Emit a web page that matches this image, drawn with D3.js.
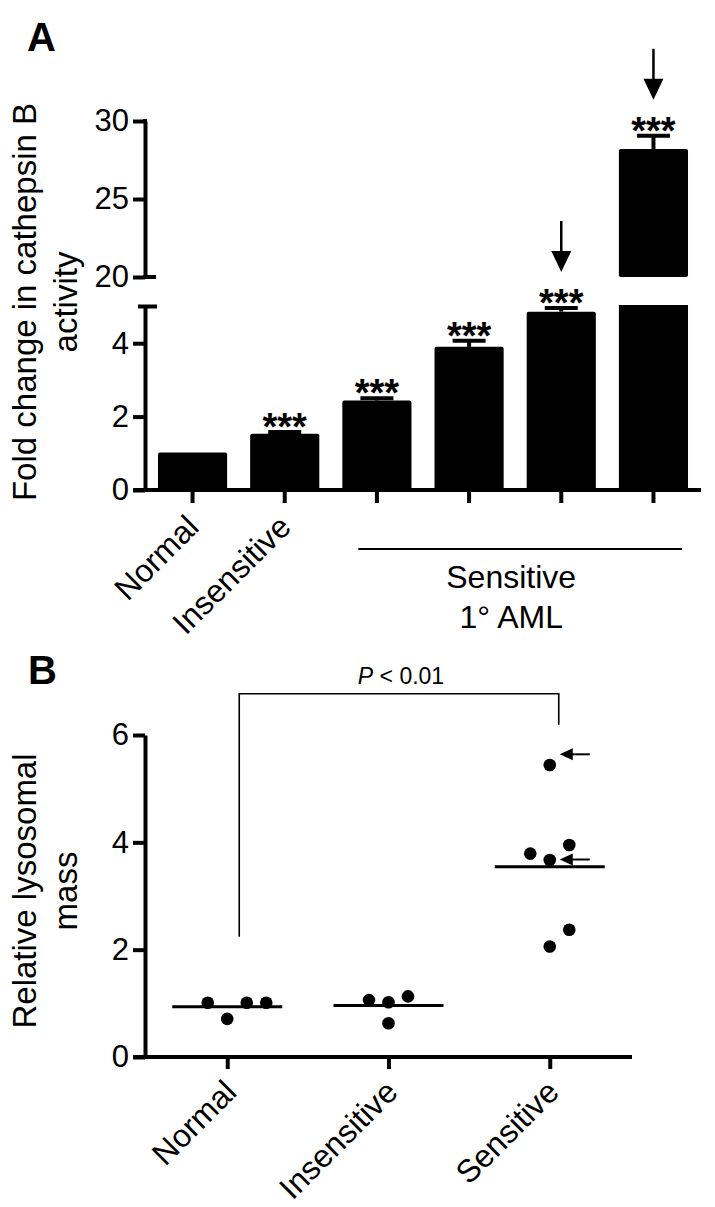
<!DOCTYPE html>
<html><head><meta charset="utf-8">
<script src="https://cdn.jsdelivr.net/npm/d3@7"></script>
<style>
body{margin:0;background:#fff}
svg{display:block}
text{font-family:"Liberation Sans",Arial,Helvetica,sans-serif;fill:#000}
</style>
</head><body><svg id="c" width="715" height="1207"></svg>
<script>
// ---------- Panel A data ----------
const categoriesA = ["Normal","Insensitive","AML1","AML2","AML3","AML4"];
const xLabelsA = ["Normal","Insensitive","","","",""];
const meansA = [1.02, 1.53, 2.44, 3.90, 4.86, 28.2];
const semA = [0, 0.05, 0.06, 0.17, 0.10, 0.85];
const starsA = ["","***","***","***","***","***"];
const arrowBarsA = ["AML3","AML4"];
const lowerTicksA = [0,2,4];
const upperTicksA = [20,25,30];
const lowerDomainA = [0,5];
const upperDomainA = [20,30];
const groupMembersA = ["AML1","AML4"];
const groupLabelA = ["Sensitive","1° AML"];
const yTitleA = ["Fold change in cathepsin B","activity"];

// ---------- Panel B data ----------
const categoriesB = ["Normal","Insensitive","Sensitive"];
const valuesNormal = [1.01, 0.71, 1.01, 1.01];
const valuesInsensitive = [1.06, 1.02, 1.13, 0.63];
const valuesSensitive = [5.44, 3.79, 3.67, 3.95, 2.06, 2.37];
const slotsNormal = [-1, 0, 1, 2];
const slotsInsensitive = [-1, 0, 1, 0];
const slotsSensitive = [0, -1, 0, 1, 0, 1];
const ticksB = [0,2,4,6];
const domainB = [0,6];
const arrowTargetsB = [5.64, 3.68];
const bracketB = {from:"Normal", to:"Sensitive", top:6.77, leftEnd:2.24, rightEnd:6.19};
const pLabel = ["P", " < 0.01"];
const yTitleB = ["Relative lysosomal","mass"];

const svg = d3.select("#c");
const AX = 4; // axis stroke
const fmt = d3.format("d");

// ================= PANEL A =================
svg.append("text").attr("x",27).attr("y",51).attr("font-size",40).attr("font-weight","bold").text("A");

const xA = d3.scaleBand().domain(categoriesA).range([146,700]).paddingInner(0.25).paddingOuter(0.13);
const yLo = d3.scaleLinear().domain(lowerDomainA).range([490,306.5]);
const yHi = d3.scaleLinear().domain(upperDomainA).range([277,121]);
const bw = xA.bandwidth();
const yOf = v => v <= lowerDomainA[1] ? yLo(v) : yHi(v);

const gA = svg.append("g");
const dataA = categoriesA.map((c,i)=>({c, m:meansA[i], e:semA[i], s:starsA[i], lab:xLabelsA[i]}));

// bars
dataA.forEach(d=>{
  if (d.m <= lowerDomainA[1]) {
    gA.append("rect").attr("x",xA(d.c)).attr("width",bw)
      .attr("y",yLo(d.m)).attr("height",yLo(0)-yLo(d.m)).attr("rx",2).attr("fill","#000");
  } else {
    gA.append("rect").attr("x",xA(d.c)).attr("width",bw)
      .attr("y",yLo(lowerDomainA[1])-1.5).attr("height",yLo(0)-yLo(lowerDomainA[1])+1.5).attr("fill","#000");
    gA.append("rect").attr("x",xA(d.c)).attr("width",bw)
      .attr("y",yHi(d.m)).attr("height",yHi(upperDomainA[0])-yHi(d.m)).attr("rx",2).attr("fill","#000");
  }
});
// error bars
dataA.filter(d=>d.e>0).forEach(d=>{
  const cx = xA(d.c)+bw/2;
  gA.append("line").attr("x1",cx).attr("x2",cx).attr("y1",yOf(d.m)).attr("y2",yOf(d.m+d.e))
    .attr("stroke","#000").attr("stroke-width",4);
  gA.append("line").attr("x1",cx-16.5).attr("x2",cx+16.5).attr("y1",yOf(d.m+d.e)).attr("y2",yOf(d.m+d.e))
    .attr("stroke","#000").attr("stroke-width",4);
});
// stars
const starTop = {};
dataA.filter(d=>d.s).forEach(d=>{
  const cx = xA(d.c)+bw/2;
  const top = yOf(d.m+d.e) - 2;
  const bottom = top - 6;
  gA.append("text").attr("x",cx).attr("y",bottom+16).attr("text-anchor","middle")
    .attr("font-size",38).attr("font-weight","bold").text(d.s);
  starTop[d.c] = bottom - 13;
});
// arrows
arrowBarsA.forEach(c=>{
  const cx = xA(c)+bw/2;
  const tip = starTop[c] - 15;
  gA.append("line").attr("x1",cx).attr("x2",cx).attr("y1",tip-51).attr("y2",tip-18)
    .attr("stroke","#000").attr("stroke-width",2.5);
  gA.append("path").attr("d",`M${cx-10},${tip-21} L${cx+10},${tip-21} L${cx},${tip} Z`).attr("fill","#000");
});

// y axis lower
const axLo = d3.axisLeft(yLo).tickValues(lowerTicksA).tickFormat(fmt).tickSize(12).tickPadding(4).tickSizeOuter(0);
const gLo = svg.append("g").attr("transform","translate(145,0)").call(axLo);
// y axis upper
const axHi = d3.axisLeft(yHi).tickValues(upperTicksA).tickFormat(fmt).tickSize(12).tickPadding(4).tickSizeOuter(0);
const gHi = svg.append("g").attr("transform","translate(145,0)").call(axHi);
[gLo,gHi].forEach(g=>{
  g.selectAll(".domain").attr("stroke","#000").attr("stroke-width",AX);
  g.selectAll(".tick line").attr("stroke","#000").attr("stroke-width",AX);
  g.selectAll(".tick text").attr("font-size",31).attr("font-family",null).attr("fill","#000");
});
// break caps
svg.append("line").attr("x1",138).attr("x2",157).attr("y1",yLo(lowerDomainA[1])).attr("y2",yLo(lowerDomainA[1]))
  .attr("stroke","#000").attr("stroke-width",AX);
svg.append("line").attr("x1",143).attr("x2",156).attr("y1",yHi(upperDomainA[0])).attr("y2",yHi(upperDomainA[0]))
  .attr("stroke","#000").attr("stroke-width",AX);
svg.append("line").attr("x1",143).attr("x2",147).attr("y1",yHi(upperDomainA[1])).attr("y2",yHi(upperDomainA[1]))
  .attr("stroke","#000").attr("stroke-width",AX);

// x axis A
const axXA = d3.axisBottom(xA).tickSize(13).tickFormat("").tickSizeOuter(0);
const gXA = svg.append("g").attr("transform",`translate(0,${yLo(0)})`).call(axXA);
gXA.select(".domain").remove();
gXA.selectAll(".tick line").attr("stroke","#000").attr("stroke-width",AX);
svg.append("line").attr("x1",133).attr("x2",701).attr("y1",yLo(0)).attr("y2",yLo(0)).attr("stroke","#000").attr("stroke-width",AX);
// x labels A
dataA.filter(d=>d.lab).forEach(d=>{
  const cx = xA(d.c)+bw/2;
  svg.append("text").attr("transform",`translate(${cx+8},${yLo(0)+39}) rotate(-45)`)
    .attr("text-anchor","end").attr("font-size",32).text(d.lab);
});
// group line + labels
{
  const x1 = xA(groupMembersA[0])+16, x2 = xA(groupMembersA[1])+bw-6;
  svg.append("line").attr("x1",x1).attr("x2",x2).attr("y1",549).attr("y2",549).attr("stroke","#000").attr("stroke-width",2);
  const mid = (x1+x2)/2 - 9;
  groupLabelA.forEach((t,i)=>{
    svg.append("text").attr("x",mid).attr("y",588+i*40).attr("text-anchor","middle").attr("font-size",32).text(t);
  });
}
// y title A
{
  const t = svg.append("text").attr("transform","translate(36,302) rotate(-90)").attr("text-anchor","middle").attr("font-size",33);
  yTitleA.forEach((s,i)=>t.append("tspan").attr("x",0).attr("y",i*41).text(s));
}

// ================= PANEL B =================
svg.append("text").attr("x",28).attr("y",684).attr("font-size",40).attr("font-weight","bold").text("B");

const xB = d3.scalePoint().domain(categoriesB).range([145,632]).padding(0.51);
const yB = d3.scaleLinear().domain(domainB).range([1057,735]);
const SLOT = 19.5;

const groupsB = [
  {c:"Normal", v:valuesNormal, s:slotsNormal},
  {c:"Insensitive", v:valuesInsensitive, s:slotsInsensitive},
  {c:"Sensitive", v:valuesSensitive, s:slotsSensitive}
];
// bracket
{
  const xl = xB(bracketB.from)+12, xr = xB(bracketB.to)+9;
  svg.append("path").attr("d",`M${xl},${yB(bracketB.leftEnd)} V${yB(bracketB.top)} H${xr} V${yB(bracketB.rightEnd)}`)
    .attr("fill","none").attr("stroke","#000").attr("stroke-width",1.6);
  const t = svg.append("text").attr("x",(xl+xr)/2+2).attr("y",yB(bracketB.top)-10).attr("text-anchor","middle").attr("font-size",23);
  t.append("tspan").attr("font-style","italic").text(pLabel[0]);
  t.append("tspan").text(pLabel[1]);
}
// means & dots
groupsB.forEach(g=>{
  const cx = xB(g.c);
  const m = d3.mean(g.v);
  svg.append("line").attr("x1",cx-55).attr("x2",cx+55).attr("y1",yB(m)).attr("y2",yB(m))
    .attr("stroke","#000").attr("stroke-width",3);
  svg.selectAll(null).data(g.v.map((v,i)=>({v, s:g.s[i]}))).enter().append("circle")
    .attr("cx",d=>cx+d.s*SLOT).attr("cy",d=>yB(d.v)).attr("r",6.3).attr("fill","#000");
});
// arrows B
arrowTargetsB.forEach(v=>{
  const tipX = xB("Sensitive")+10, y = yB(v);
  svg.append("line").attr("x1",tipX+10).attr("x2",tipX+30).attr("y1",y).attr("y2",y).attr("stroke","#000").attr("stroke-width",2);
  svg.append("path").attr("d",`M${tipX},${y} L${tipX+13},${y-6} L${tipX+13},${y+6} Z`).attr("fill","#000");
});
// y axis B
const axYB = d3.axisLeft(yB).tickValues(ticksB).tickFormat(fmt).tickSize(12).tickPadding(4).tickSizeOuter(0);
const gYB = svg.append("g").attr("transform","translate(145,0)").call(axYB);
gYB.selectAll(".domain").attr("stroke","#000").attr("stroke-width",AX);
gYB.selectAll(".tick line").attr("stroke","#000").attr("stroke-width",AX);
gYB.selectAll(".tick text").attr("font-size",31).attr("font-family",null).attr("fill","#000");
// x axis B
const axXB = d3.axisBottom(xB).tickSize(12).tickFormat("").tickSizeOuter(0);
const gXB = svg.append("g").attr("transform",`translate(0,${yB(0)})`).call(axXB);
gXB.select(".domain").remove();
gXB.selectAll(".tick line").attr("stroke","#000").attr("stroke-width",AX);
svg.append("line").attr("x1",133).attr("x2",632).attr("y1",yB(0)).attr("y2",yB(0)).attr("stroke","#000").attr("stroke-width",AX);
categoriesB.forEach(c=>{
  svg.append("text").attr("transform",`translate(${xB(c)+11},${yB(0)+37}) rotate(-45)`)
    .attr("text-anchor","end").attr("font-size",32).text(c);
});
// y title B
{
  const t = svg.append("text").attr("transform","translate(36,891) rotate(-90)").attr("text-anchor","middle").attr("font-size",33);
  yTitleB.forEach((s,i)=>t.append("tspan").attr("x",0).attr("y",i*41).text(s));
}
</script>
</body></html>
